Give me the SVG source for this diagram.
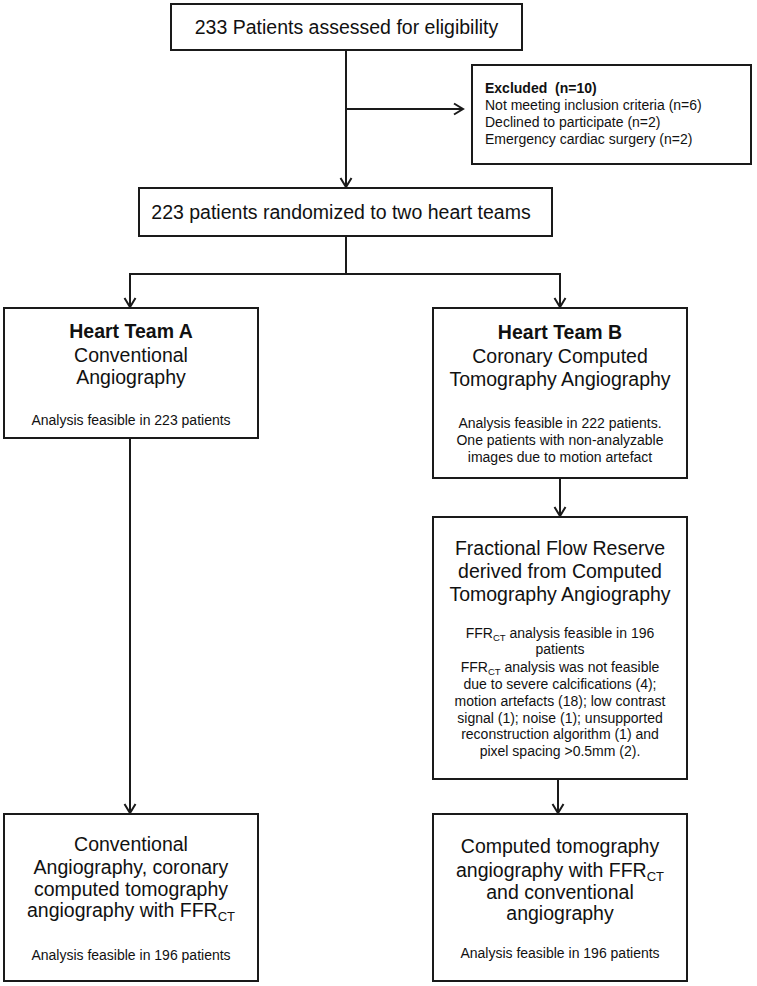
<svg xmlns="http://www.w3.org/2000/svg" width="757" height="986" viewBox="0 0 757 986">
<style>
  .box { fill: #ffffff; stroke: #1a1a1a; stroke-width: 2; }
  .t { font-family: "Liberation Sans", Arial, sans-serif; fill: #111111; }
  .big { font-size: 19.5px; text-anchor: middle; }
  .bold { font-weight: bold; }
  .sm { font-size: 14px; text-anchor: middle; }
  .lft { font-size: 14px; text-anchor: start; }
  .conn line { stroke: #1a1a1a; stroke-width: 2; fill: none; }
  .arr { marker-end: url(#ah); }
</style>
<defs>
  <marker id="ah" markerUnits="userSpaceOnUse" markerWidth="14" markerHeight="14" viewBox="0 0 14 14" refX="11" refY="7" orient="auto">
    <path d="M2,1.5 L11,7 L2,12.5" fill="none" stroke="#1a1a1a" stroke-width="2"/>
  </marker>
</defs>
<rect width="757" height="986" fill="#ffffff"/>

<g class="conn">
  <line class="arr" x1="346" y1="50" x2="346" y2="187"/>
  <line class="arr" x1="346" y1="109" x2="463" y2="109"/>
  <line x1="346" y1="236" x2="346" y2="274"/>
  <line x1="129" y1="274" x2="561" y2="274"/>
  <line class="arr" x1="130" y1="273" x2="130" y2="307"/>
  <line class="arr" x1="560" y1="273" x2="560" y2="307"/>
  <line class="arr" x1="560" y1="478" x2="560" y2="516"/>
  <line class="arr" x1="130" y1="438" x2="130" y2="813"/>
  <line class="arr" x1="558" y1="779" x2="558" y2="813"/>
</g>

<g id="assessed">
  <rect class="box" x="171" y="4" width="351" height="46"/>
  <text class="t big" x="346.5" y="34">233 Patients assessed for eligibility</text>
</g>

<g id="excluded">
  <rect class="box" x="472" y="65" width="279" height="99"/>
  <text class="t lft bold" x="485" y="93">Excluded &#160;(n=10)</text>
  <text class="t lft" x="485" y="110">Not meeting inclusion criteria (n=6)</text>
  <text class="t lft" x="485" y="127">Declined to participate (n=2)</text>
  <text class="t lft" x="485" y="144">Emergency cardiac surgery (n=2)</text>
</g>

<g id="randomized">
  <rect class="box" x="139" y="188" width="413" height="48"/>
  <text class="t big" x="341" y="219">223 patients randomized to two heart teams</text>
</g>

<g id="teamA">
  <rect class="box" x="4" y="308" width="254" height="130"/>
  <text class="t big bold" x="131" y="338">Heart Team A</text>
  <text class="t big" x="131" y="362">Conventional</text>
  <text class="t big" x="131" y="384">Angiography</text>
  <text class="t sm" x="131" y="425">Analysis feasible in 223 patients</text>
</g>

<g id="teamB">
  <rect class="box" x="433" y="308" width="254" height="170"/>
  <text class="t big bold" x="560" y="339">Heart Team B</text>
  <text class="t big" x="560" y="363">Coronary Computed</text>
  <text class="t big" x="560" y="386">Tomography Angiography</text>
  <text class="t sm" x="560" y="428">Analysis feasible in 222 patients.</text>
  <text class="t sm" x="560" y="445">One patients with non-analyzable</text>
  <text class="t sm" x="560" y="462">images due to motion artefact</text>
</g>

<g id="ffrct">
  <rect class="box" x="433" y="517" width="254" height="262"/>
  <text class="t big" x="560" y="555">Fractional Flow Reserve</text>
  <text class="t big" x="560" y="578">derived from Computed</text>
  <text class="t big" x="560" y="601">Tomography Angiography</text>
  <text class="t sm" x="560" y="638">FFR<tspan font-size="9.5px" dy="3">CT</tspan><tspan dy="-3"> analysis feasible in 196</tspan></text>
  <text class="t sm" x="560" y="654">patients</text>
  <text class="t sm" x="560" y="672">FFR<tspan font-size="9.5px" dy="3">CT</tspan><tspan dy="-3"> analysis was not feasible</tspan></text>
  <text class="t sm" x="560" y="689">due to severe calcifications (4);</text>
  <text class="t sm" x="560" y="706">motion artefacts (18); low contrast</text>
  <text class="t sm" x="560" y="723">signal (1); noise (1); unsupported</text>
  <text class="t sm" x="560" y="739">reconstruction algorithm (1) and</text>
  <text class="t sm" x="560" y="756">pixel spacing &gt;0.5mm (2).</text>
</g>

<g id="resultA">
  <rect class="box" x="4" y="814" width="254" height="167"/>
  <text class="t big" x="131" y="851">Conventional</text>
  <text class="t big" x="131" y="874">Angiography, coronary</text>
  <text class="t big" x="131" y="896">computed tomography</text>
  <text class="t big" x="131" y="917">angiography with FFR<tspan font-size="13px" dy="4">CT</tspan></text>
  <text class="t sm" x="131" y="960">Analysis feasible in 196 patients</text>
</g>

<g id="resultB">
  <rect class="box" x="433" y="814" width="254" height="167"/>
  <text class="t big" x="560" y="853">Computed tomography</text>
  <text class="t big" x="560" y="877">angiography with FFR<tspan font-size="13px" dy="4">CT</tspan></text>
  <text class="t big" x="560" y="899">and conventional</text>
  <text class="t big" x="560" y="920">angiography</text>
  <text class="t sm" x="560" y="958">Analysis feasible in 196 patients</text>
</g>
</svg>
